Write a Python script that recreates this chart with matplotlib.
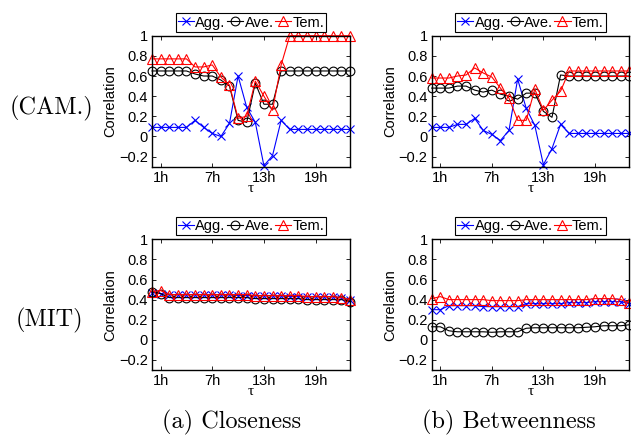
import matplotlib
matplotlib.use('Agg')
import matplotlib.pyplot as plt

plt.rcParams['font.family'] = ['Liberation Sans', 'DejaVu Sans']

hours = list(range(24))
xtick_pos = [1, 7, 13, 19]
xtick_labels = ['1h', '7h', '13h', '19h']
ytick_pos = [-0.2, 0, 0.2, 0.4, 0.6, 0.8, 1]
ytick_labels = ['\u22120.2', '0', '0.2', '0.4', '0.6', '0.8', '1']
series_names = ['Agg.', 'Ave.', 'Tem.']

# (CAM.) closeness
cam_close_agg = [0.09, 0.09, 0.09, 0.09, 0.09, 0.16, 0.09, 0.03, 0.00, 0.13, 0.60, 0.29,
                 0.14, -0.29, -0.19, 0.16, 0.07, 0.07, 0.07, 0.07, 0.07, 0.07, 0.07, 0.07]
cam_close_ave = [0.65, 0.65, 0.65, 0.65, 0.65, 0.62, 0.60, 0.60, 0.56, 0.50, 0.16, 0.14,
                 0.53, 0.32, 0.32, 0.65, 0.65, 0.65, 0.65, 0.65, 0.65, 0.65, 0.65, 0.65]
cam_close_tem = [0.77, 0.77, 0.77, 0.77, 0.77, 0.69, 0.69, 0.71, 0.59, 0.51, 0.18, 0.20,
                 0.55, 0.40, 0.26, 0.71, 1.00, 1.00, 1.00, 1.00, 1.00, 1.00, 1.00, 1.00]

# (CAM.) betweenness
cam_betw_agg = [0.09, 0.09, 0.09, 0.12, 0.12, 0.18, 0.06, 0.02, -0.04, 0.06, 0.57, 0.28,
                0.11, -0.28, -0.12, 0.12, 0.03, 0.03, 0.03, 0.03, 0.03, 0.03, 0.03, 0.03]
cam_betw_ave = [0.48, 0.48, 0.48, 0.50, 0.50, 0.46, 0.44, 0.46, 0.42, 0.40, 0.37, 0.43,
                0.43, 0.25, 0.19, 0.61, 0.60, 0.60, 0.60, 0.60, 0.60, 0.60, 0.60, 0.60]
cam_betw_tem = [0.58, 0.58, 0.58, 0.60, 0.61, 0.68, 0.63, 0.59, 0.48, 0.38, 0.16, 0.16,
                0.47, 0.26, 0.36, 0.45, 0.65, 0.65, 0.65, 0.65, 0.65, 0.65, 0.65, 0.65]

# (MIT) closeness
mit_close_agg = [0.47, 0.46, 0.45, 0.45, 0.45, 0.45, 0.45, 0.45, 0.45, 0.45, 0.44, 0.44,
                 0.44, 0.44, 0.44, 0.44, 0.43, 0.43, 0.43, 0.43, 0.43, 0.43, 0.42, 0.40]
mit_close_ave = [0.48, 0.46, 0.42, 0.42, 0.42, 0.42, 0.42, 0.42, 0.42, 0.42, 0.42, 0.42,
                 0.41, 0.41, 0.41, 0.41, 0.41, 0.41, 0.40, 0.40, 0.40, 0.40, 0.40, 0.38]
mit_close_tem = [0.48, 0.49, 0.45, 0.45, 0.45, 0.45, 0.45, 0.45, 0.45, 0.45, 0.45, 0.45,
                 0.44, 0.44, 0.44, 0.44, 0.44, 0.44, 0.43, 0.43, 0.43, 0.43, 0.42, 0.40]

# (MIT) betweenness
mit_betw_agg = [0.30, 0.30, 0.34, 0.34, 0.34, 0.34, 0.33, 0.33, 0.33, 0.33, 0.33, 0.36,
                0.36, 0.36, 0.36, 0.36, 0.37, 0.37, 0.37, 0.38, 0.38, 0.38, 0.38, 0.36]
mit_betw_ave = [0.13, 0.13, 0.09, 0.08, 0.08, 0.08, 0.08, 0.075, 0.08, 0.08, 0.08, 0.115,
                0.12, 0.12, 0.12, 0.12, 0.12, 0.12, 0.125, 0.13, 0.14, 0.14, 0.14, 0.15]
mit_betw_tem = [0.41, 0.43, 0.40, 0.40, 0.40, 0.40, 0.40, 0.39, 0.39, 0.39, 0.39, 0.40,
                0.40, 0.40, 0.40, 0.40, 0.40, 0.40, 0.40, 0.41, 0.41, 0.41, 0.40, 0.37]

W, H = 631.0, 436.0
fig = plt.figure(figsize=(W / 100, H / 100), dpi=100)

def make_ax(left, top, right, bottom):
    return fig.add_axes([left / W, 1 - bottom / H, (right - left) / W, (bottom - top) / H])

panels = [
    (make_ax(152, 35.7, 350, 166.7), cam_close_agg, cam_close_ave, cam_close_tem),
    (make_ax(431.7, 35.7, 629.3, 166.7), cam_betw_agg, cam_betw_ave, cam_betw_tem),
    (make_ax(152, 239.3, 350, 370), mit_close_agg, mit_close_ave, mit_close_tem),
    (make_ax(431.7, 239.3, 629.3, 370), mit_betw_agg, mit_betw_ave, mit_betw_tem),
]

for ax, agg, ave, tem in panels:
    ax.plot(hours, agg, color='blue', marker='x', markersize=5.5, lw=0.8,
            mew=0.8, clip_on=False, label=series_names[0])
    ax.plot(hours, ave, color='black', marker='o', markersize=6.3, lw=0.8,
            mew=0.8, mfc='none', clip_on=False, label=series_names[1])
    ax.plot(hours, tem, color='red', marker='^', markersize=6.5, lw=0.8,
            mew=0.8, mfc='none', clip_on=False, label=series_names[2])
    ax.set_xlim(0, 23)
    ax.set_ylim(-0.3, 1)
    ax.set_xticks(xtick_pos)
    ax.set_xticklabels(xtick_labels)
    ax.set_yticks(ytick_pos)
    ax.set_yticklabels(ytick_labels)
    ax.tick_params(direction='in', top=True, right=True, length=3, width=0.6,
                   labelsize=10.5, pad=3)
    for sp in ax.spines.values():
        sp.set_linewidth(1.0)
    ax.set_xlabel('\u03c4', family='Liberation Serif', fontsize=11, labelpad=-2)
    ax.set_ylabel('Correlation', fontsize=10.5, labelpad=1)
    leg = ax.legend(loc='lower center', bbox_to_anchor=(0.5, 1.03), ncol=3,
                    fancybox=False, edgecolor='black', framealpha=1,
                    handlelength=1.1, handletextpad=0.1, columnspacing=0.1,
                    borderpad=0.15, borderaxespad=0, fontsize=10.5, numpoints=1)
    leg.get_frame().set_linewidth(0.8)

fig.text(52 / W, 1 - 108 / H, '(CAM.)', family='cmr10', fontsize=17.5,
         ha='center', va='center')
fig.text(49 / W, 1 - 320 / H, '(MIT)', family='cmr10', fontsize=17.5,
         ha='center', va='center')
fig.text(232 / W, 1 - 422 / H, '(a) Closeness', family='cmr10', fontsize=17.5,
         ha='center', va='center')
fig.text(509 / W, 1 - 422 / H, '(b) Betweenness', family='cmr10', fontsize=17.5,
         ha='center', va='center')

fig.savefig('out.png', dpi=100)
